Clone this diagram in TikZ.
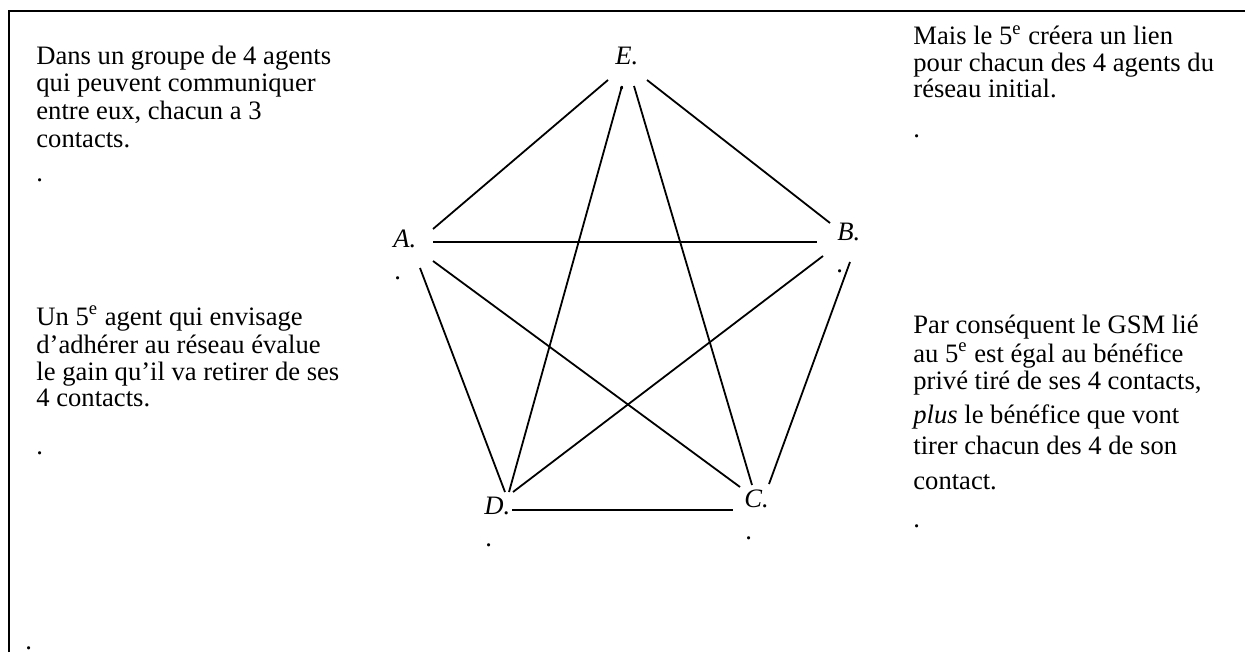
\documentclass[tikz,border=0pt]{standalone}
\usepackage{fontspec}
\setmainfont{Liberation Serif}
\begin{document}
\begin{tikzpicture}[x=0.5pt,y=-0.5pt,
  txt/.style={anchor=base west,inner sep=0pt,font=\fontsize{13.3pt}{15pt}\selectfont},
  lbl/.style={anchor=base west,inner sep=0pt,font=\fontsize{13.3pt}{15pt}\selectfont\itshape},
  edge/.style={line width=0.9pt},
  frame/.style={line width=1.15pt}]
\useasboundingbox (0,0) rectangle (1245,652);
% frame
\coordinate (fb) at (9,652);
\coordinate (ftl) at (9,11);
\coordinate (fr) at (1245,11);
\draw[frame] (fb) -- (ftl) -- (fr);
% block 1
\node[txt] (t1a) at (36,65) {Dans un groupe de 4 agents};
\node[txt] (t1b) at (36,92) {qui peuvent communiquer};
\node[txt] (t1c) at (36,120) {entre eux, chacun a 3};
\node[txt] (t1d) at (36,148) {contacts.};
\node[txt] (t1e) at (36,182) {.};
% block 2
\node[txt] (t2a) at (36,325) {Un 5\textsuperscript{e} agent qui envisage};
\node[txt] (t2b) at (36,353) {d’adhérer au réseau évalue};
\node[txt] (t2c) at (36,380) {le gain qu’il va retirer de ses};
\node[txt] (t2d) at (36,406) {4 contacts.};
\node[txt] (t2e) at (36,454) {.};
% block 3
\node[txt] (t3a) at (913,45) {Mais le 5\textsuperscript{e} créera un lien};
\node[txt] (t3b) at (913,72) {pour chacun des 4 agents du};
\node[txt] (t3c) at (913,98) {réseau initial.};
\node[txt] (t3d) at (913,138) {.};
% block 4
\node[txt] (t4a) at (913,333) {Par conséquent le GSM lié};
\node[txt] (t4b) at (913,362) {au 5\textsuperscript{e} est égal au bénéfice};
\node[txt] (t4c) at (913,389) {privé tiré de ses 4 contacts,};
\node[txt] (t4d) at (913,423) {\textit{plus} le bénéfice que vont};
\node[txt] (t4e) at (913,454) {tirer chacun des 4 de son};
\node[txt] (t4f) at (913,489) {contact.};
\node[txt] (t4g) at (913,527) {.};
% bottom-left dot
\node[txt] (t5) at (25,649) {.};
% vertex labels
\node[lbl] (E) at (615,65) {E.};
\node[lbl] (A) at (393,247) {A.};
\node[lbl] (B) at (837,240) {B.};
\node[lbl] (D) at (484,514) {D.};
\node[lbl] (C) at (744,507) {C.};
\node[txt] (Ed) at (618,90) {.};
\node[txt] (Ad) at (394,279) {.};
\node[txt] (Bd) at (836,272) {.};
\node[txt] (Dd) at (485,546) {.};
\node[txt] (Cd) at (745,539) {.};
% end points
\coordinate (EtoA) at (608,80);
\coordinate (EtoD) at (622,86);
\coordinate (EtoC) at (634,86);
\coordinate (EtoB) at (647,80);
\coordinate (AtoE) at (433,229);
\coordinate (AtoB) at (433,242);
\coordinate (AtoC) at (433,261);
\coordinate (AtoD) at (420,268);
\coordinate (BtoE) at (830,223);
\coordinate (BtoA) at (817,242);
\coordinate (BtoD) at (823,256);
\coordinate (BtoC) at (850,262);
\coordinate (DtoA) at (505,492);
\coordinate (DtoE) at (509,492);
\coordinate (DtoB) at (513,492);
\coordinate (DtoC) at (512,510);
\coordinate (CtoA) at (740,487);
\coordinate (CtoE) at (752,485);
\coordinate (CtoB) at (769,484);
\coordinate (CtoD) at (733,510);
% edges
\draw[edge] (EtoA) -- (AtoE);
\draw[edge] (EtoB) -- (BtoE);
\draw[edge] (AtoB) -- (BtoA);
\draw[edge] (EtoD) -- (DtoE);
\draw[edge] (EtoC) -- (CtoE);
\draw[edge] (AtoD) -- (DtoA);
\draw[edge] (AtoC) -- (CtoA);
\draw[edge] (BtoD) -- (DtoB);
\draw[edge] (BtoC) -- (CtoB);
\draw[edge] (DtoC) -- (CtoD);
\end{tikzpicture}
\end{document}
